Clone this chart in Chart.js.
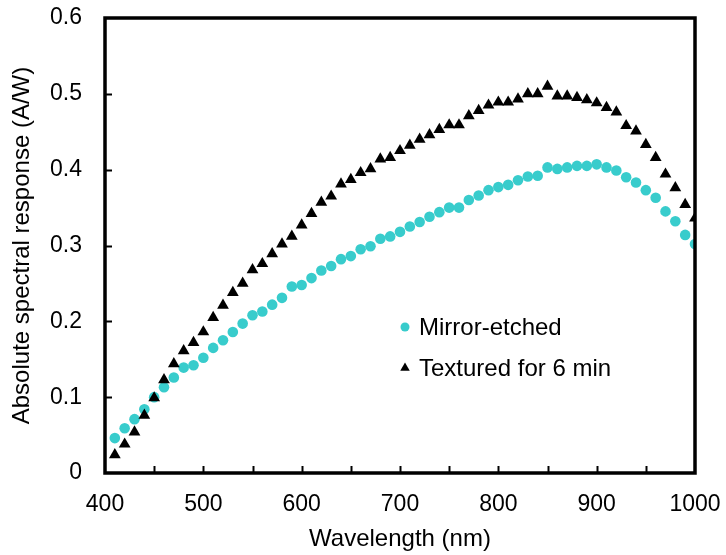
<!DOCTYPE html>
<html>
<head>
<meta charset="utf-8">
<script src="https://cdn.jsdelivr.net/npm/chart.js@4/dist/chart.umd.min.js"></script>
<style>
  html, body { margin: 0; padding: 0; background: #fff; }
  #wrap { width: 726px; height: 555px; }
</style>
</head>
<body>
<div id="wrap"><canvas id="graph" width="726" height="555"></canvas></div>
<script>
// wavelength (nm)
const wavelengths = [410, 420, 430, 440, 450, 460, 470, 480, 490, 500,
                     510, 520, 530, 540, 550, 560, 570, 580, 590, 600,
                     610, 620, 630, 640, 650, 660, 670, 680, 690, 700,
                     710, 720, 730, 740, 750, 760, 770, 780, 790, 800,
                     810, 820, 830, 840, 850, 860, 870, 880, 890, 900,
                     910, 920, 930, 940, 950, 960, 970, 980, 990, 1000];

// absolute spectral response (A/W)
const mirrorEtched = [0.046, 0.059, 0.071, 0.084, 0.100, 0.113, 0.126, 0.139, 0.142, 0.152,
                      0.165, 0.175, 0.186, 0.197, 0.208, 0.213, 0.222, 0.231, 0.246, 0.248,
                      0.257, 0.267, 0.273, 0.282, 0.286, 0.295, 0.299, 0.309, 0.312, 0.318,
                      0.325, 0.331, 0.338, 0.344, 0.350, 0.350, 0.360, 0.366, 0.373, 0.377,
                      0.380, 0.386, 0.391, 0.392, 0.403, 0.401, 0.403, 0.405, 0.405, 0.407,
                      0.403, 0.399, 0.390, 0.383, 0.373, 0.363, 0.345, 0.332, 0.314, 0.302];

const textured6min = [0.024, 0.038, 0.054, 0.076, 0.099, 0.123, 0.144, 0.161, 0.172, 0.186,
                      0.205, 0.221, 0.238, 0.250, 0.268, 0.276, 0.289, 0.302, 0.312, 0.327,
                      0.342, 0.357, 0.365, 0.381, 0.387, 0.396, 0.401, 0.414, 0.416, 0.425,
                      0.432, 0.440, 0.446, 0.453, 0.459, 0.459, 0.471, 0.478, 0.485, 0.489,
                      0.489, 0.493, 0.500, 0.500, 0.510, 0.497, 0.497, 0.495, 0.492, 0.488,
                      0.482, 0.476, 0.458, 0.451, 0.433, 0.416, 0.394, 0.376, 0.354, 0.336];

const seriesNames = ["Mirror-etched", "Textured for 6 min"];
const xTicks = [400, 500, 600, 700, 800, 900, 1000];
const yTicks = [0, 0.1, 0.2, 0.3, 0.4, 0.5, 0.6];

const FONT = "'Liberation Sans', Arial, sans-serif";
const CYAN = '#38cccc';

function toPoints(ys) {
    return wavelengths.map((x, i) => ({ x: x, y: ys[i] }));
}

// frame + inward tick marks
const framePlugin = {
    id: 'frame',
    afterDatasetsDraw(chart) {
        const ctx = chart.ctx, a = chart.chartArea;
        const xs = chart.scales.x, ys = chart.scales.y;
        ctx.save();
        ctx.strokeStyle = '#000';
        ctx.lineWidth = 2;
        for (let v = 450; v < 1000; v += 50) {
            const px = Math.round(xs.getPixelForValue(v)) + 0.5;
            ctx.beginPath(); ctx.moveTo(px, a.bottom); ctx.lineTo(px, a.bottom - 7); ctx.stroke();
        }
        yTicks.slice(1, -1).forEach(v => {
            const py = Math.round(ys.getPixelForValue(v)) + 0.5;
            ctx.beginPath(); ctx.moveTo(a.left, py); ctx.lineTo(a.left + 7, py); ctx.stroke();
        });
        ctx.lineWidth = 3.5;
        ctx.strokeRect(a.left, a.top, a.right - a.left, a.bottom - a.top);
        ctx.restore();
    }
};

// legend inside plot
const legendPlugin = {
    id: 'insideLegend',
    afterDraw(chart) {
        const ctx = chart.ctx, a = chart.chartArea;
        const lx = a.left + 300, rows = [a.top + 309, a.top + 350];
        ctx.save();
        ctx.font = '24px ' + FONT;
        ctx.textBaseline = 'middle';
        chart.data.datasets.forEach(ds => {
            const row = ds.label === seriesNames[0] ? 0 : 1;
            const opts = { pointStyle: ds.pointStyle, radius: ds.pointStyle === 'circle' ? 4.5 : 5.5, borderWidth: 0 };
            ctx.fillStyle = ds.backgroundColor;
            Chart.helpers.drawPoint(ctx, opts, lx, rows[row]);
            ctx.fillStyle = '#000';
            ctx.fillText(ds.label, lx + 14, rows[row] + 1);
        });
        ctx.restore();
    }
};

new Chart(document.getElementById('graph'), {
    type: 'scatter',
    data: {
        datasets: [
            { label: seriesNames[1], data: toPoints(textured6min), pointStyle: 'triangle',
              pointRadius: 6.8, backgroundColor: '#000', borderWidth: 0, order: 0 },
            { label: seriesNames[0], data: toPoints(mirrorEtched), pointStyle: 'circle',
              pointRadius: 5.3, backgroundColor: CYAN, borderWidth: 0, order: 1 }
        ]
    },
    options: {
        responsive: false,
        animation: false,
        devicePixelRatio: 1,
        layout: { padding: { left: 0, right: 31, top: 18, bottom: 0 } },
        plugins: { legend: { display: false }, tooltip: { enabled: false } },
        scales: {
            x: {
                type: 'linear', min: 400, max: 1000,
                afterBuildTicks: s => { s.ticks = xTicks.map(v => ({ value: v })); },
                afterFit: s => { s.height = 82; s.paddingLeft = 0; s.paddingRight = 0; },
                grid: { display: false, drawTicks: false },
                border: { display: false },
                ticks: { color: '#000', padding: 18, font: { family: FONT, size: 23 },
                         callback: v => String(v) },
                title: { display: true, text: 'Wavelength (nm)', color: '#000',
                         padding: { top: 0, bottom: 1 }, font: { family: FONT, size: 24 } }
            },
            y: {
                min: 0, max: 0.6,
                afterBuildTicks: s => { s.ticks = yTicks.map(v => ({ value: v })); },
                afterFit: s => { s.width = 105; s.paddingTop = 0; s.paddingBottom = 0; },
                grid: { display: false, drawTicks: false },
                border: { display: false },
                ticks: { color: '#000', padding: 23, font: { family: FONT, size: 23 },
                         callback: v => v === 0 ? '0' : v.toFixed(1) },
                title: { display: true, text: 'Absolute spectral response (A/W)', color: '#000',
                         padding: { top: 8, bottom: 0 }, font: { family: FONT, size: 24 } }
            }
        }
    },
    plugins: [framePlugin, legendPlugin]
});
</script>
</body>
</html>
